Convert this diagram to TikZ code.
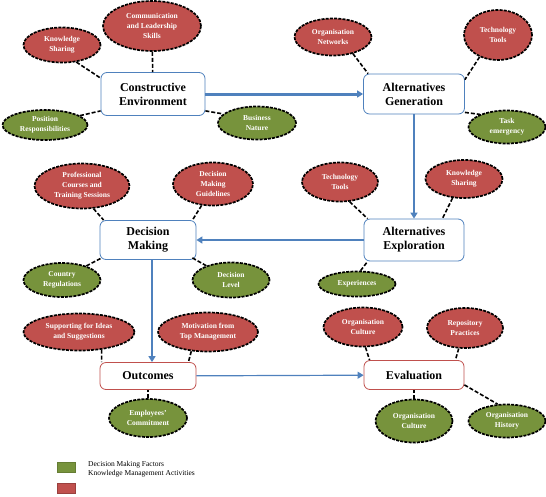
\documentclass[tikz,border=0pt]{standalone}
\usepackage{fontspec}
\setmainfont{Liberation Serif}
\usetikzlibrary{shapes.geometric,arrows.meta}
\definecolor{stageblue}{HTML}{4F81BD}
\definecolor{actred}{HTML}{C0504D}
\definecolor{facgreen}{HTML}{77933C}

\begin{document}
\begin{tikzpicture}[x=1pt, y=-1pt,
  stage/.style={draw=stageblue, line width=0.8pt, rounded corners=6pt, fill=white, align=center, inner sep=0pt, font=\fontsize{12}{14}\selectfont\bfseries},
  result/.style={stage, draw=actred},
  kma/.style={ellipse, draw=black, line width=1.7pt, dash pattern=on 3pt off 1.2pt, fill=actred, text=white, align=center, inner sep=0pt, font=\fontsize{7.5}{10}\selectfont\bfseries},
  dmf/.style={kma, fill=facgreen},
  link/.style={draw=black, line width=1.6pt, dash pattern=on 4pt off 2pt},
  flow/.style={draw=stageblue, line width=2pt, -{Triangle[length=6pt,width=7pt]}}]
\useasboundingbox (0,0) rectangle (546,496);

\node[stage, minimum width=104pt, minimum height=43pt] (ce) at (153,94) {Constructive\\Environment};
\node[stage, minimum width=101pt, minimum height=40pt] (ag) at (414,94) {Alternatives\\Generation};
\node[stage, minimum width=96pt, minimum height=39pt] (dm) at (148,240) {Decision\\Making};
\node[stage, minimum width=100pt, minimum height=42pt] (ae) at (414,240) {Alternatives\\Exploration};
\node[result, minimum width=96pt, minimum height=27pt] (oc) at (148,376) {Outcomes};
\node[result, minimum width=100pt, minimum height=29pt] (ev) at (414,375) {Evaluation};

\draw[flow, line width=3pt] (ce) -- (ag);
\draw[flow] (ag) -- (ae);
\draw[flow] (ae) -- (dm);
\draw[flow] ([xshift=4pt]dm.south) -- ([xshift=4pt]oc.north);
\draw[flow, line width=1.2pt] (oc) -- (ev);

\node[kma, minimum width=77pt, minimum height=35pt] (ks1) at (62,45) {Knowledge\\Sharing};
\node[kma, minimum width=98pt, minimum height=50pt] (cls) at (152,26) {Communication\\and Leadership\\Skills};
\node[dmf, minimum width=85pt, minimum height=30pt] (pr) at (45,125) {Position\\Responsibilities};
\node[dmf, minimum width=78pt, minimum height=33pt] (bn) at (257,123) {Business\\Nature};

\node[kma, minimum width=77pt, minimum height=37pt] (on) at (333,37) {Organisation\\Networks};
\node[kma, minimum width=68pt, minimum height=50pt] (tt1) at (498,35) {Technology\\Tools};
\node[dmf, minimum width=77pt, minimum height=33pt] (te) at (507,127) {Task\\emergency};

\node[kma, minimum width=95pt, minimum height=45pt] (pct) at (82,186) {Professional\\Courses and\\Training Sessions};
\node[kma, minimum width=80pt, minimum height=43pt] (dmg) at (213,184) {Decision\\Making\\Guidelines};
\node[dmf, minimum width=77pt, minimum height=34pt] (cr) at (62,280) {Country\\Regulations};
\node[dmf, minimum width=77pt, minimum height=35pt] (dl) at (231,280) {Decision\\Level};

\node[kma, minimum width=76pt, minimum height=39pt] (tt2) at (340,182) {Technology\\Tools};
\node[kma, minimum width=77pt, minimum height=38pt] (ks2) at (464,179) {Knowledge\\Sharing};
\node[dmf, minimum width=77pt, minimum height=25pt] (ex) at (357,284) {Experiences};

\node[kma, minimum width=111pt, minimum height=37pt] (sis) at (79,332) {Supporting for Ideas\\and Suggestions};
\node[kma, minimum width=100pt, minimum height=39pt] (mtm) at (208,332) {Motivation from\\Top Management};
\node[dmf, minimum width=78pt, minimum height=38pt] (emc) at (148,418) {Employees'\\Commitment};

\node[kma, minimum width=79pt, minimum height=39pt] (ocu1) at (363,327) {Organisation\\Culture};
\node[kma, minimum width=76pt, minimum height=40pt] (rp) at (465,328) {Repository\\Practices};
\node[dmf, minimum width=77pt, minimum height=43pt] (ocu2) at (414,421) {Organisation\\Culture};
\node[dmf, minimum width=77pt, minimum height=33pt] (oh) at (507,421) {Organisation\\History};

\draw[link] (ks1.-50) -- ([yshift=-6pt]ce.north west);
\draw[link] (cls) -- (ce);
\draw[link] (pr.15) -- ([yshift=5pt]ce.south west);
\draw[link] ([yshift=5pt]ce.south east) -- (bn.165);

\draw[link] (on.-40) -- ([xshift=5pt]ag.north west);
\draw[link] (tt1.-130) -- ([yshift=-6pt]ag.north east);
\draw[link] ([yshift=2pt]ag.south east) -- (te.155);

\draw[link] (pct.-63) -- ([xshift=4pt]dm.north west);
\draw[link] (dmg.-118) -- ([xshift=-4pt]dm.north east);
\draw[link] (cr.30) -- ([xshift=2pt, yshift=2pt]dm.south west);
\draw[link] ([xshift=-4pt, yshift=2pt]dm.south east) -- (dl.150);

\draw[link] (tt2.-64) -- ([xshift=4pt]ae.north west);
\draw[link] (ks2.-121) -- ([xshift=-22pt]ae.north east);
\draw[link] (ex.75) -- ([xshift=4pt]ae.south west);

\draw[link] (sis.-38) -- ([xshift=2pt]oc.north west);
\draw[link] (mtm.-131) -- ([xshift=-8pt]oc.north east);
\draw[link] (emc) -- (oc);

\draw[link] (ocu1.-83) -- ([xshift=6pt]ev.north west);
\draw[link] (rp.-107) -- ([xshift=-9pt]ev.north east);
\draw[link] (ocu2) -- (ev);
\draw[link] ([yshift=5pt]ev.south east) -- (oh.119);

\filldraw[fill=facgreen, draw=facgreen!85!black, line width=0.5pt] (57,462) rectangle (75,472);
\filldraw[fill=actred, draw=actred!80!black, line width=0.5pt] (57,483) rectangle (75,493);
\node[anchor=north west, align=left, inner sep=0pt, font=\fontsize{7.5}{9}\selectfont] (leg) at (88,461) {Decision Making Factors\\Knowledge Management Activities};
\end{tikzpicture}
\end{document}
